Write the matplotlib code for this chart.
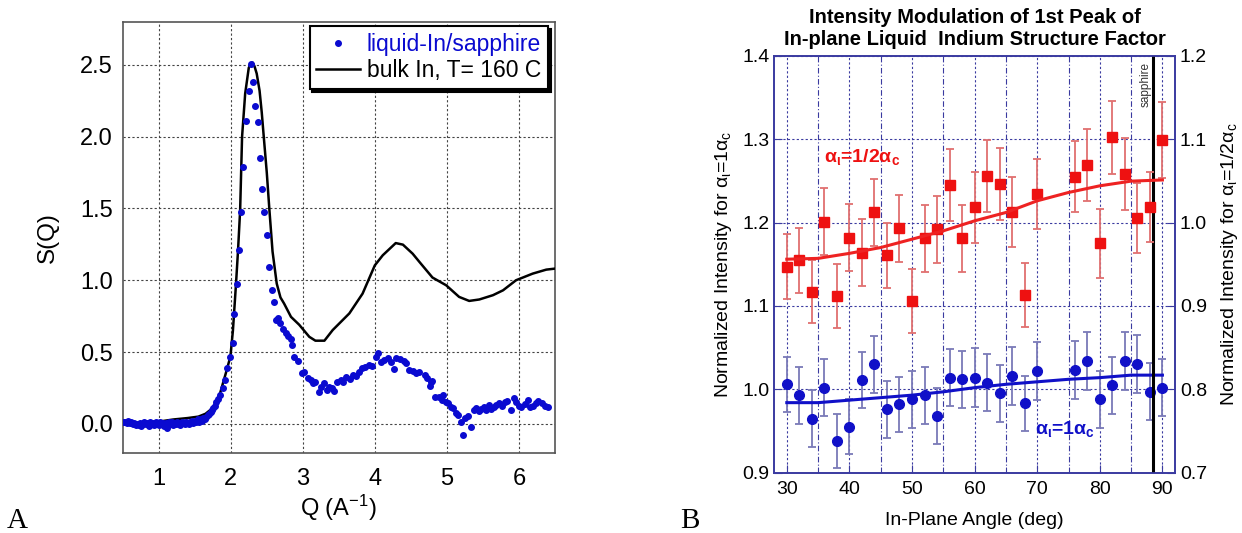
import matplotlib
matplotlib.use('Agg')
import matplotlib.pyplot as plt
from matplotlib.ticker import MultipleLocator, FormatStrFormatter

plt.rcParams['font.family'] = ['Liberation Sans', 'DejaVu Sans']
plt.rcParams['mathtext.fontset'] = 'custom'
plt.rcParams['mathtext.rm'] = 'Liberation Sans'
plt.rcParams['mathtext.it'] = 'Liberation Sans:italic'
plt.rcParams['mathtext.bf'] = 'Liberation Sans:bold'

# ---------------- Panel A data ----------------
q_liquid = [0.50, 0.52, 0.54, 0.56, 0.58, 0.60, 0.62, 0.64, 0.66, 0.68, 0.70, 0.72, 0.74, 0.76, 0.78,
            0.80, 0.82, 0.84, 0.86, 0.88, 0.90, 0.92, 0.94, 0.96, 0.98, 1.00, 1.02, 1.04, 1.06, 1.08,
            1.10, 1.12, 1.14, 1.16, 1.18, 1.20, 1.22, 1.24, 1.26, 1.28, 1.30, 1.32, 1.34, 1.36, 1.38,
            1.40, 1.42, 1.44, 1.46, 1.48, 1.50, 1.52, 1.54, 1.56, 1.58, 1.60, 1.62, 1.64,
            1.66, 1.68, 1.70, 1.72, 1.74, 1.76, 1.78, 1.80, 1.82,
            1.852, 1.888, 1.926, 1.954, 1.995, 2.027, 2.05, 2.083, 2.116, 2.148, 2.176, 2.209, 2.25,
            2.282, 2.31, 2.342, 2.375, 2.402, 2.435, 2.467, 2.50, 2.537, 2.569, 2.597, 2.629, 2.661,
            2.69, 2.72, 2.76, 2.79, 2.83, 2.85, 2.88, 2.93, 2.99, 3.02, 3.07, 3.11, 3.14, 3.17, 3.23,
            3.25, 3.30, 3.33, 3.36, 3.41, 3.44, 3.48, 3.53, 3.56, 3.60, 3.65, 3.69, 3.74, 3.78, 3.82,
            3.87, 3.92, 3.96, 4.01, 4.04, 4.09, 4.13, 4.18, 4.23, 4.27, 4.30, 4.35, 4.40, 4.43, 4.48,
            4.53, 4.57, 4.62, 4.69, 4.73, 4.77, 4.78, 4.80, 4.84, 4.89, 4.93, 4.95, 4.99, 5.02, 5.06,
            5.09, 5.12, 5.16, 5.19, 5.22, 5.25, 5.30, 5.34, 5.38, 5.41, 5.45, 5.47, 5.52, 5.54, 5.59,
            5.61, 5.66, 5.68, 5.73, 5.76, 5.80, 5.84, 5.89, 5.93, 5.96, 6.00, 6.03, 6.08, 6.12, 6.16,
            6.20, 6.24, 6.27, 6.32, 6.36, 6.41]
s_liquid = [0.012, 0.010, 0.014, 0.008, 0.018, 0.004, 0.010, -0.004, 0.006, -0.010, 0.002, -0.006, 0.008, -0.012, 0.000,
            0.012, -0.004, 0.004, -0.014, 0.010, -0.002, 0.006, -0.010, 0.014, 0.002, -0.006, 0.010, -0.004, 0.008, -0.012,
            0.004, -0.030, 0.012, 0.000, 0.016, -0.008, 0.006, -0.004, 0.014, 0.002, -0.010, 0.010, 0.004, -0.002, 0.016,
            0.008, 0.000, 0.012, 0.022, 0.004, 0.018, 0.010, 0.030, 0.014, 0.036, 0.020, 0.042, 0.032,
            0.050, 0.058, 0.070, 0.085, 0.095, 0.110, 0.125, 0.150, 0.170,
            0.201, 0.248, 0.306, 0.391, 0.468, 0.560, 0.768, 0.977, 1.208, 1.475, 1.792, 2.111, 2.315,
            2.509, 2.382, 2.211, 2.100, 1.850, 1.637, 1.475, 1.317, 1.093, 0.930, 0.850, 0.722, 0.738,
            0.700, 0.660, 0.630, 0.610, 0.588, 0.549, 0.463, 0.438, 0.352, 0.363, 0.317, 0.306, 0.282, 0.294, 0.225,
            0.259, 0.287, 0.236, 0.255, 0.248, 0.231, 0.294, 0.306, 0.294, 0.324, 0.310, 0.340, 0.333, 0.363, 0.387,
            0.398, 0.410, 0.403, 0.468, 0.490, 0.433, 0.444, 0.456, 0.433, 0.380, 0.456, 0.449, 0.440, 0.421, 0.375,
            0.370, 0.352, 0.363, 0.340, 0.317, 0.266, 0.294, 0.300, 0.190, 0.185, 0.167, 0.200, 0.155, 0.144, 0.120,
            0.109, 0.074, 0.0625, 0.016, -0.076, 0.039, 0.056, -0.019, 0.097, 0.109, 0.086, 0.102, 0.116, 0.097, 0.132,
            0.102, 0.116, 0.132, 0.144, 0.125, 0.155, 0.162, 0.093, 0.178, 0.155, 0.125, 0.116, 0.139, 0.167, 0.120,
            0.125, 0.144, 0.162, 0.144, 0.125, 0.116]

q_bulk = [0.50, 0.80, 1.00, 1.20, 1.40, 1.55, 1.65, 1.75, 1.85, 1.93, 1.995, 2.03, 2.073, 2.10, 2.13,
          2.157, 2.20, 2.25, 2.28, 2.305, 2.33, 2.36, 2.40, 2.43, 2.458, 2.50, 2.537, 2.58, 2.638, 2.69,
          2.74, 2.836, 2.95, 3.09, 3.175, 3.30, 3.415, 3.646, 3.83, 4.00, 4.11, 4.29, 4.39, 4.525, 4.62,
          4.80, 4.99, 5.17, 5.31, 5.45, 5.64, 5.78, 5.96, 6.19, 6.38, 6.50]
s_bulk = [0.000, 0.005, 0.015, 0.030, 0.040, 0.050, 0.070, 0.110, 0.210, 0.350, 0.468, 0.650, 0.977, 1.200, 1.486,
          2.000, 2.300, 2.480, 2.510, 2.516, 2.490, 2.440, 2.320, 2.170, 2.000, 1.750, 1.486, 1.200, 0.977, 0.880,
          0.838, 0.745, 0.690, 0.606, 0.579, 0.579, 0.653, 0.769, 0.907, 1.104, 1.174, 1.259, 1.248, 1.185, 1.127,
          1.019, 0.965, 0.884, 0.856, 0.866, 0.896, 0.930, 1.000, 1.046, 1.074, 1.081]

legend_labels = ['liquid-In/sapphire', 'bulk In, T= 160 C']

# ---------------- Panel B data ----------------
angle_half = [30, 32, 34, 36, 38, 40, 42, 44, 46, 48, 50, 52, 54, 56, 58, 60, 62, 64, 66, 68, 70,
              76, 78, 80, 82, 84, 86, 88, 90]
# red series, in units of the right-hand axis (alpha_i = 1/2 alpha_c)
int_half = [0.947, 0.955, 0.917, 1.001, 0.912, 0.982, 0.964, 1.012, 0.961, 0.993, 0.906, 0.981, 0.992,
            1.045, 0.981, 1.018, 1.056, 1.046, 1.013, 0.913, 1.034, 1.055, 1.069, 0.975, 1.102, 1.058,
            1.005, 1.019, 1.099]
err_half = [0.039, 0.039, 0.038, 0.040, 0.038, 0.040, 0.040, 0.040, 0.039, 0.040, 0.038, 0.040, 0.040,
            0.043, 0.040, 0.042, 0.043, 0.043, 0.042, 0.038, 0.042, 0.043, 0.043, 0.041, 0.044, 0.043,
            0.042, 0.042, 0.046]
fit_angle_half = [30, 35, 40, 45, 50, 55, 60, 65, 70, 75, 80, 85, 90]
fit_half = [0.956, 0.957, 0.963, 0.970, 0.980, 0.990, 1.002, 1.012, 1.026, 1.036, 1.044, 1.0496, 1.051]

angle_one = [30, 32, 34, 36, 38, 40, 42, 44, 46, 48, 50, 52, 54, 56, 58, 60, 62, 64, 66, 68, 70,
             76, 78, 80, 82, 84, 86, 88, 90]
# blue series, in units of the left-hand axis (alpha_i = 1 alpha_c)
int_one = [1.006, 0.993, 0.965, 1.002, 0.938, 0.955, 1.011, 1.030, 0.976, 0.982, 0.988, 0.993, 0.968,
           1.014, 1.012, 1.014, 1.008, 0.995, 1.016, 0.983, 1.022, 1.023, 1.034, 0.988, 1.005, 1.034,
           1.030, 0.997, 1.002]
err_one = [0.033, 0.034, 0.034, 0.034, 0.032, 0.033, 0.034, 0.034, 0.034, 0.033, 0.034, 0.034, 0.034,
           0.034, 0.034, 0.035, 0.034, 0.034, 0.035, 0.033, 0.035, 0.035, 0.035, 0.034, 0.034, 0.035,
           0.035, 0.034, 0.034]
fit_angle_one = [30, 35, 40, 45, 50, 55, 60, 65, 70, 75, 80, 85, 90]
fit_one = [0.984, 0.984, 0.987, 0.990, 0.993, 0.997, 1.002, 1.006, 1.009, 1.012, 1.014, 1.017, 1.017]

sapphire_angle = 88.5

# ---------------- Figure ----------------
fig = plt.figure(figsize=(12.42, 5.33), dpi=100)

# ===== Panel A =====
axA = fig.add_axes([0.0988, 0.151, 0.348, 0.808])
axA.plot(q_bulk, s_bulk, color='black', lw=1.8, label=legend_labels[1], zorder=3)
axA.plot(q_liquid, s_liquid, linestyle='none', marker='o', ms=4.0, color='#0a0ad0',
         label=legend_labels[0], zorder=4)
axA.set_xlim(0.5, 6.5)
axA.set_ylim(-0.2, 2.8)
axA.xaxis.set_major_locator(MultipleLocator(1))
axA.yaxis.set_major_formatter(FormatStrFormatter('%.1f'))
axA.set_yticks([0.0, 0.5, 1.0, 1.5, 2.0, 2.5])
axA.grid(True, color='#444444', linestyle=(0, (2, 2)), lw=0.8)
axA.tick_params(length=0, labelsize=17, pad=7)
axA.tick_params(axis='x', pad=11)
for sp in axA.spines.values():
    sp.set_color('#555555')
    sp.set_linewidth(1.2)
axA.set_xlabel('Q (A$^{-1}$)', fontsize=17, labelpad=2)
axA.set_ylabel('S(Q)', fontsize=17.5, labelpad=15)

handles, labels = axA.get_legend_handles_labels()
leg = axA.legend([handles[1], handles[0]], [labels[1], labels[0]], loc='upper right',
                 bbox_to_anchor=(0.984, 0.99), borderaxespad=0, fontsize=16.5,
                 frameon=True, fancybox=False, shadow={'color': 'black', 'alpha': 1.0},
                 handlelength=1.9, handletextpad=0.3, borderpad=0.3, labelspacing=0.15,
                 markerscale=1.0)
leg.get_frame().set_edgecolor('black')
leg.get_frame().set_linewidth(1.5)
leg.get_texts()[0].set_color('#0a0ad0')
leg.get_texts()[1].set_color('black')

fig.text(0.0137, 0.022, 'A', fontsize=21, family='Liberation Serif', ha='center', va='center')

# ===== Panel B =====
navy = '#3a3aa0'
axB = fig.add_axes([0.6234, 0.1131, 0.3226, 0.7824])
axB2 = axB.twinx()

axB.set_xlim(28, 92)
axB.set_ylim(0.9, 1.4)
axB2.set_ylim(0.7, 1.2)

axB.xaxis.set_major_locator(MultipleLocator(10))
axB.xaxis.set_minor_locator(MultipleLocator(5))
axB.yaxis.set_major_locator(MultipleLocator(0.1))
axB2.yaxis.set_major_locator(MultipleLocator(0.1))
axB.yaxis.set_major_formatter(FormatStrFormatter('%.1f'))
axB2.yaxis.set_major_formatter(FormatStrFormatter('%.1f'))

axB.grid(True, which='major', axis='both', color=navy, linestyle=(0, (2, 2)), lw=0.8)
axB.grid(True, which='minor', axis='x', color=navy, linestyle=(0, (5, 2, 1, 2)), lw=0.8)

axB.axvline(sapphire_angle, color='black', lw=2.2, zorder=5)
axB.text(sapphire_angle - 1.2, 1.393, 'sapphire', rotation=90, fontsize=8.5, color='#333333',
         ha='center', va='top')

axB.errorbar(angle_one, int_one, yerr=err_one, fmt='o', ms=7, color='#1010c8',
             ecolor='#7a7ab8', elinewidth=1.3, capsize=3, capthick=1.3, zorder=3)
axB.plot(fit_angle_one, fit_one, color='#1010c8', lw=2.2, zorder=4)

axB2.errorbar(angle_half, int_half, yerr=err_half, fmt='s', ms=7, color='#ee1111',
              ecolor='#e07070', elinewidth=1.3, capsize=3, capthick=1.3, zorder=3)
axB2.plot(fit_angle_half, fit_half, color='#ee2222', lw=2.2, zorder=4)

for a in (axB, axB2):
    for sp in a.spines.values():
        sp.set_color(navy)
        sp.set_linewidth(1.2)
axB.tick_params(which='both', direction='in', color=navy, labelsize=14, top=False)
axB.tick_params(which='major', length=6)
axB.tick_params(which='minor', length=4)
axB.tick_params(axis='x', pad=6)
axB2.tick_params(direction='in', color=navy, labelsize=14, length=6)

axB.set_xlabel('In-Plane Angle (deg)', fontsize=14, labelpad=10)
axB.set_ylabel(r'Normalized Intensity for $\mathrm{\alpha_{\iota}}$=1$\mathrm{\alpha_{c}}$',
               fontsize=14, labelpad=6)
axB2.set_ylabel(r'Normalized Intensity for $\mathrm{\alpha_{\iota}}$=1/2$\mathrm{\alpha_{c}}$',
                fontsize=14, labelpad=9)

axB.text(35.9, 1.279, r'$\mathbf{\alpha_{\iota}}$=1/2$\mathbf{\alpha_{c}}$', color='#ee1111',
         fontsize=14, fontweight='bold', ha='left', va='center', zorder=6)
axB.text(69.7, 0.952, r'$\mathbf{\alpha_{\iota}}$=1$\mathbf{\alpha_{c}}$', color='#1010c8',
         fontsize=14, fontweight='bold', ha='left', va='center', zorder=6)

fig.text(0.7847, 0.946, 'Intensity Modulation of 1st Peak of\nIn-plane Liquid  Indium Structure Factor',
         fontsize=14.5, fontweight='bold', ha='center', va='center', linespacing=1.22)

fig.text(0.5555, 0.022, 'B', fontsize=21, family='Liberation Serif', ha='center', va='center')

fig.savefig('out.png', dpi=100)
